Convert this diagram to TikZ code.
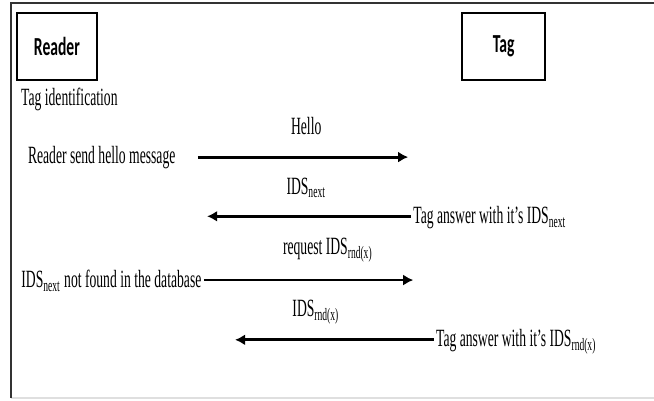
\documentclass[tikz,border=0pt]{standalone}
\usepackage{fontspec}
\setmainfont[FakeStretch=0.55]{Liberation Serif}
\newfontfamily\boxfont[FakeStretch=0.6]{Carlito}
\usetikzlibrary{arrows.meta}

\begin{document}
\begin{tikzpicture}
        \useasboundingbox (0,0) rectangle (11.49,-7.03);
        % frame
        \draw[gray!25,line width=0.8pt] (0.19,-6.99) -- (11.49,-6.99);
        \draw[black!80,line width=1pt] (0.19,-6.99) -- (0.19,-0.05) -- (11.49,-0.05);
        \begin{scope}[every node/.style={draw,line width=0.8pt,minimum width=1.41cm,minimum height=1.18cm,font=\boxfont\fontsize{13}{15}\selectfont\bfseries}]
        \node (reader) at (1.00,-0.82) {Reader};
        \node[minimum width=1.46cm] (tag) at (8.85,-0.82) {Tag};
        \end{scope}
        \begin{scope}[every node/.style={inner sep=1pt,font=\fontsize{12.4}{14}\selectfont}]
        \node[anchor=west] (ident) at (0.33,-1.74) {Tag identification};
        \node (hello) at (5.38,-2.21) {Hello};
        \node[anchor=west] (send) at (0.45,-2.76) {Reader send hello message};
        \coordinate (helloend) at (7.17,-2.76);
        \node (idsnext) at (5.38,-3.30) {IDS\textsubscript{next}};
        \node[anchor=west] (answer) at (7.22,-3.83) {Tag answer with it's IDS\textsubscript{next}};
        \coordinate (answerend) at (3.64,-3.80);
        \node (request) at (5.76,-4.39) {request IDS\textsubscript{rnd(x)}};
        \node[anchor=east] (notfound) at (3.58,-4.93) {IDS\textsubscript{next} not found in the database};
        \coordinate (requestend) at (7.26,-4.92);
        \node (idsrnd) at (5.55,-5.48) {IDS\textsubscript{rnd(x)}};
        \node[anchor=west] (answerrnd) at (7.62,-6.00) {Tag answer with it's IDS\textsubscript{rnd(x)}};
        \coordinate (answerrndend) at (4.13,-5.97);
        \end{scope}
        \begin{scope}[every edge/.style={draw=black,line width=1.4pt,-{Latex[length=5pt,width=5.5pt]}}]
        \path ([xshift=10pt]send.east) edge (helloend)
              (answer.west |- answerend) edge (answerend)
              (notfound.east |- requestend) edge (requestend)
              (answerrnd.west |- answerrndend) edge (answerrndend);
        \end{scope}
        \end{tikzpicture}
\end{document}
